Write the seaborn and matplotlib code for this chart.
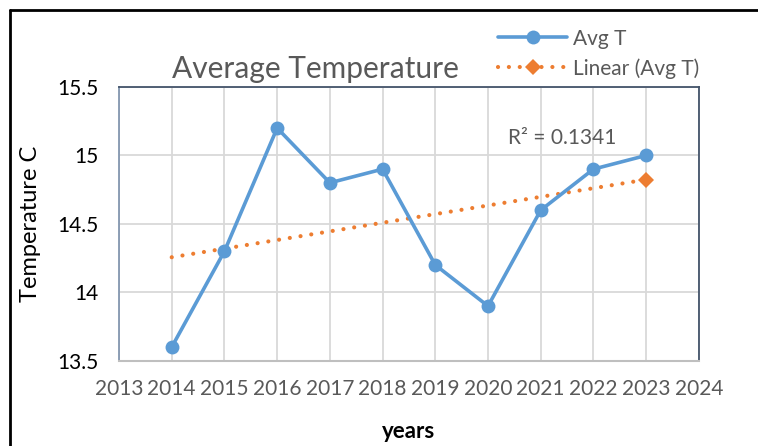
import numpy as np
import pandas as pd
import seaborn as sns
import matplotlib.pyplot as plt
from matplotlib.lines import Line2D

years = [2014, 2015, 2016, 2017, 2018, 2019, 2020, 2021, 2022, 2023]
avg_t = [13.6, 14.3, 15.2, 14.8, 14.9, 14.2, 13.9, 14.6, 14.9, 15.0]
x_ticks = list(range(2013, 2025))
y_ticks = [13.5, 14, 14.5, 15, 15.5]
r2_label = "R² = 0.1341"

df = pd.DataFrame({"year": years, "Avg T": avg_t})

sns.set_theme(style="white")
plt.rcParams['font.family'] = ['Lato', 'DejaVu Sans']

blue = "#5b9bd5"
orange = "#ed7d31"
grey_txt = "#595959"
dots = (0, (0.01, 2.6))

fig = plt.figure(figsize=(7.58, 4.46), dpi=100)
ax = fig.add_axes([0.157, 0.191, 0.765, 0.614])

# main series
sns.lineplot(data=df, x="year", y="Avg T", ax=ax, color=blue, lw=2.6,
             marker="o", markersize=10, markeredgewidth=0, label="Avg T")

# linear trend
slope, icpt = np.polyfit(years, avg_t, 1)
fit = [slope * y + icpt for y in years]
ax.plot(years, fit, color=orange, lw=3, ls=dots,
        dash_capstyle="round", zorder=1)
ax.plot([years[-1]], [fit[-1]], marker="D", color=orange, markersize=8,
        markeredgewidth=0, zorder=3)

ax.set_xlim(2013, 2024)
ax.set_ylim(13.5, 15.5)
ax.set_xticks(x_ticks)
ax.set_yticks(y_ticks)
ax.set_yticklabels(["13.5", "14", "14.5", "15", "15.5"])
ax.grid(True, color="#d9d9d9", lw=1.3)
ax.set_axisbelow(True)
ax.tick_params(axis="x", labelsize=15, colors=grey_txt, length=0, pad=13)
ax.tick_params(axis="y", labelsize=15, colors="black", length=0, pad=15)
for s in ["top", "right"]:
    ax.spines[s].set_color("#44546a")
    ax.spines[s].set_linewidth(1.3)
ax.spines["left"].set_color("#8497b0")
ax.spines["bottom"].set_color("#bfbfbf")
ax.spines["left"].set_linewidth(1.3)
ax.spines["bottom"].set_linewidth(1.5)

ax.set_xlabel("years", fontsize=16, fontweight="bold", color="black", va="center")
ax.xaxis.set_label_coords(0.5, -0.258)
ax.set_ylabel("Temperature C", fontsize=17, color="black", va="center")
ax.yaxis.set_label_coords(-0.152, 0.5)

ax.text(2021.4, 15.13, r2_label, fontsize=15, color=grey_txt, ha="center", va="center")
fig.text(315 / 758, 1 - 69 / 446, "Average Temperature", fontsize=21.5,
         color=grey_txt, ha="center", va="center")

handles = [
    Line2D([], [], color=blue, lw=2.6, marker="o", markersize=10, markeredgewidth=0),
    Line2D([], [], color=orange, lw=3, ls=dots, dash_capstyle="round",
           marker="D", markersize=8, markeredgewidth=0),
]
leg = ax.legend(handles, ["Avg T", "Linear (Avg T)"], loc="lower left",
                bbox_to_anchor=(0.64, 1.0), frameon=False, fontsize=15,
                handlelength=3.3, handletextpad=0.3, labelspacing=0.45,
                borderaxespad=0)
for t in leg.get_texts():
    t.set_color(grey_txt)

# outer chart border (top and left edges visible)
fig.add_artist(Line2D([10 / 758, 1], [1 - 10 / 446, 1 - 10 / 446],
                      transform=fig.transFigure, color="black", lw=2))
fig.add_artist(Line2D([10 / 758, 10 / 758], [0, 1 - 10 / 446],
                      transform=fig.transFigure, color="black", lw=2))

fig.savefig("out.png", dpi=100)
